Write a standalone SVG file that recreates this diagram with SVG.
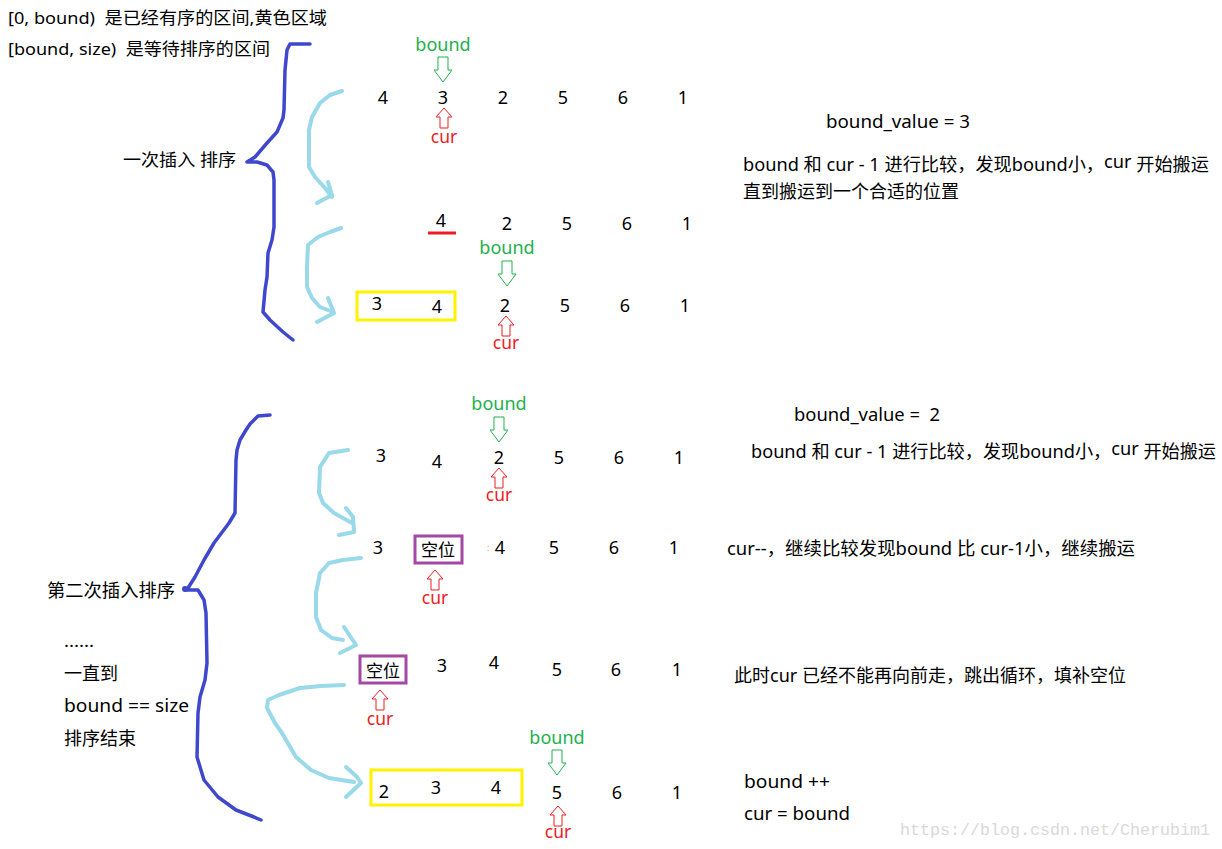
<svg xmlns="http://www.w3.org/2000/svg" xmlns:xlink="http://www.w3.org/1999/xlink" width="1222" height="849" viewBox="0 0 1222 849">
<style>
text{font-family:"Noto Sans","Noto Sans CJK SC",sans-serif;fill:#000;white-space:pre}
.t{font-size:17px}
.n{font-size:18px;text-anchor:middle}
.g{font-size:18px;fill:#22b14c;text-anchor:middle}
.r{font-size:17.5px;fill:#ed1c24;text-anchor:middle}
.ga{fill:#fff;stroke:#22b14c;stroke-width:1}
.ra{fill:#fff;stroke:#ed1c24;stroke-width:1}
.brace{fill:none;stroke:#3f48cc;stroke-width:3.5;stroke-linejoin:round;stroke-linecap:round}
.lb{fill:none;stroke:#99d9ea;stroke-width:4;stroke-linejoin:round;stroke-linecap:round}
.yb{fill:none;stroke:#fff200;stroke-width:3}
.pb{fill:#fff;stroke:#a349a4;stroke-width:3}
.wm{font-family:"Liberation Mono",monospace;font-size:16.5px;fill:#d9d9d9}
</style>
<defs>
<path id="down" d="M-5,0 H5 V13 H9 L0,25 L-9,13 H-5 Z"/>
<path id="up" d="M0,0 L8,9 H4 V20 H-4 V9 H-8 Z"/>
</defs>
<rect width="1222" height="849" fill="#fff"/>

<g id="legend">
<text class="t" x="8" y="24" xml:space="preserve" textLength="319" lengthAdjust="spacingAndGlyphs">[0, bound)  是已经有序的区间,黄色区域</text>
<text class="t" x="8" y="55" xml:space="preserve" textLength="262" lengthAdjust="spacingAndGlyphs">[bound, size)  是等待排序的区间</text>
</g>

<g id="connectors">
<path class="brace" d="M310,44 L290,44 L287,50 L285,70 L284,110 L283,118 L277,132 L267,143 L255,157 L247,162 L257,162 L267,165 L273,172 L274,180 L274,227 L272,240 L268,253 L267,277 L265,290 L263,312 L270,320 L283,332 L293,340"/>
<path class="brace" d="M270,415 L258,416 L250,424 L246,430 L240,440 L237,450 L236,460 L235,513 L229,523 L214,543 L204,560 L195,577 L188,588 L185,590 L198,590 L204,600 L206,613 L207,663 L205,680 L200,697 L198,713 L197,757 L204,780 L218,797 L236,810 L254,817 L261,820"/>
<circle cx="185" cy="589" r="3" fill="#3f48cc"/>
<path class="lb" d="M342,91 L330,95 L320,103 L312,117 L309,130 L309,167 L315,177 L325,188 L332,197 M328,182 L332,195 L317,203"/>
<path class="lb" d="M341,228 L330,232 L318,237 L308,245 L307,267 L307,287 L312,298 L320,307 L333,312 M328,298 L334,313 L317,322"/>
<path class="lb" d="M348,450 L329,453 L320,467 L319,493 L323,503 L334,513 L352,523 M346,508 L353,517 L354,532 L339,535"/>
<path class="lb" d="M361,558 L343,560 L329,563 L320,573 L316,593 L316,617 L321,630 L332,638 L343,640 M344,627 L356,645 L340,653"/>
<path class="lb" d="M344,685 L321,686 L300,688 L279,695 L268,700 L267,708 L275,723 L282,733 L286,740 L296,757 L311,770 L329,778 L354,782 M346,767 L357,777 L361,783 L346,797"/>
</g>

<g id="label-first">
<text class="t" x="123" y="166" xml:space="preserve" textLength="113" lengthAdjust="spacingAndGlyphs">一次插入 排序</text>
</g>

<g id="row1">
<text class="g" x="443" y="51">bound</text>
<use href="#down" class="ga" x="443" y="57"/>
<text class="n" x="383" y="104">4</text>
<text class="n" x="443" y="104">3</text>
<text class="n" x="503" y="104">2</text>
<text class="n" x="563" y="104">5</text>
<text class="n" x="623" y="104">6</text>
<text class="n" x="683" y="104">1</text>
<use href="#up" class="ra" x="444" y="108"/>
<text class="r" x="444" y="143">cur</text>
</g>

<g id="row2">
<text class="n" x="441" y="227">4</text>
<line x1="428" y1="233" x2="456" y2="233" stroke="#ed1c24" stroke-width="3"/>
<text class="n" x="507" y="230">2</text>
<text class="n" x="567" y="230">5</text>
<text class="n" x="627" y="230">6</text>
<text class="n" x="687" y="230">1</text>
</g>

<g id="row3">
<text class="g" x="507" y="254">bound</text>
<use href="#down" class="ga" x="507" y="261"/>
<rect class="yb" x="357" y="292" width="98" height="28"/>
<text class="n" x="377" y="310">3</text>
<text class="n" x="437" y="313">4</text>
<text class="n" x="505" y="312">2</text>
<text class="n" x="565" y="312">5</text>
<text class="n" x="625" y="312">6</text>
<text class="n" x="685" y="312">1</text>
<use href="#up" class="ra" x="506" y="316"/>
<text class="r" x="506" y="349">cur</text>
</g>

<g id="notes-first">
<text class="t" x="826" y="128" style="font-size:18px" textLength="144" lengthAdjust="spacingAndGlyphs">bound_value = 3</text>
<text class="t" x="743" y="171" style="font-size:18px" textLength="466" lengthAdjust="spacingAndGlyphs">bound 和 cur - 1 进行比较，发现bound小，<tspan dy="-3">cur</tspan><tspan dy="3"> 开始搬运</tspan></text>
<text class="t" x="743" y="198" style="font-size:18px" textLength="216" lengthAdjust="spacingAndGlyphs">直到搬运到一个合适的位置</text>
</g>

<g id="label-second">
<text class="t" x="47" y="597" style="font-size:18px" textLength="128" lengthAdjust="spacingAndGlyphs">第二次插入排序</text>
<text class="t" x="64" y="647" textLength="30" lengthAdjust="spacingAndGlyphs">......</text>
<text class="t" x="64" y="680" style="font-size:18px" textLength="54" lengthAdjust="spacingAndGlyphs">一直到</text>
<text class="t" x="64" y="712" style="font-size:18px" textLength="125" lengthAdjust="spacingAndGlyphs">bound == size</text>
<text class="t" x="64" y="745" style="font-size:18px" textLength="72" lengthAdjust="spacingAndGlyphs">排序结束</text>
</g>

<g id="rowA">
<text class="g" x="499" y="410">bound</text>
<use href="#down" class="ga" x="499" y="417"/>
<text class="n" x="381" y="462">3</text>
<text class="n" x="437" y="468">4</text>
<text class="n" x="499" y="464">2</text>
<text class="n" x="559" y="464">5</text>
<text class="n" x="619" y="464">6</text>
<text class="n" x="679" y="464">1</text>
<use href="#up" class="ra" x="499" y="468"/>
<text class="r" x="499" y="501">cur</text>
</g>

<g id="rowB">
<text class="n" x="378" y="554">3</text>
<rect class="pb" x="415" y="536" width="47" height="27"/>
<text class="n" x="438" y="556" style="font-size:17px">空位</text>
<text x="487" y="551" style="font-size:9px;fill:#e0a040">:</text>
<text class="n" x="500" y="554">4</text>
<text class="n" x="554" y="554">5</text>
<text class="n" x="614" y="554">6</text>
<text class="n" x="674" y="554">1</text>
<use href="#up" class="ra" x="435" y="570"/>
<text class="r" x="435" y="604">cur</text>
</g>

<g id="notes-second">
<text class="t" x="794" y="421" style="font-size:18px" xml:space="preserve" textLength="146" lengthAdjust="spacingAndGlyphs">bound_value =  2</text>
<text class="t" x="751" y="458" style="font-size:18px" textLength="465" lengthAdjust="spacingAndGlyphs">bound 和 cur - 1 进行比较，发现bound小，<tspan dy="-3">cur</tspan><tspan dy="3"> 开始搬运</tspan></text>
<text class="t" x="727" y="555" style="font-size:18px" textLength="408" lengthAdjust="spacingAndGlyphs">cur--，继续比较发现bound 比 cur-1小，继续搬运</text>
</g>

<g id="rowC">
<rect class="pb" x="360" y="656" width="46" height="27"/>
<text class="n" x="383" y="677" style="font-size:17px">空位</text>
<text class="n" x="442" y="672">3</text>
<text class="n" x="494" y="669">4</text>
<text class="n" x="557" y="676">5</text>
<text class="n" x="616" y="676">6</text>
<text class="n" x="677" y="676">1</text>
<use href="#up" class="ra" x="380" y="690"/>
<text class="r" x="380" y="725">cur</text>
</g>

<g id="notes-third">
<text class="t" x="734" y="682" style="font-size:18px" textLength="392" lengthAdjust="spacingAndGlyphs">此时cur 已经不能再向前走，跳出循环，填补空位</text>
</g>

<g id="rowD">
<text class="g" x="557" y="744">bound</text>
<use href="#down" class="ga" x="557" y="750"/>
<rect class="yb" x="371" y="770" width="151" height="35"/>
<text class="n" x="384" y="798">2</text>
<text class="n" x="436" y="794">3</text>
<text class="n" x="496" y="794">4</text>
<text class="n" x="557" y="799">5</text>
<text class="n" x="617" y="799">6</text>
<text class="n" x="677" y="799">1</text>
<use href="#up" class="ra" x="558" y="806"/>
<text class="r" x="558" y="838">cur</text>
</g>

<g id="notes-fourth">
<text class="t" x="744" y="788" style="font-size:18px" textLength="86" lengthAdjust="spacingAndGlyphs">bound ++</text>
<text class="t" x="744" y="820" style="font-size:18px" textLength="106" lengthAdjust="spacingAndGlyphs">cur = bound</text>
</g>

<text class="wm" x="900" y="835" textLength="310" lengthAdjust="spacingAndGlyphs">https://blog.csdn.net/Cherubim1</text>
</svg>
